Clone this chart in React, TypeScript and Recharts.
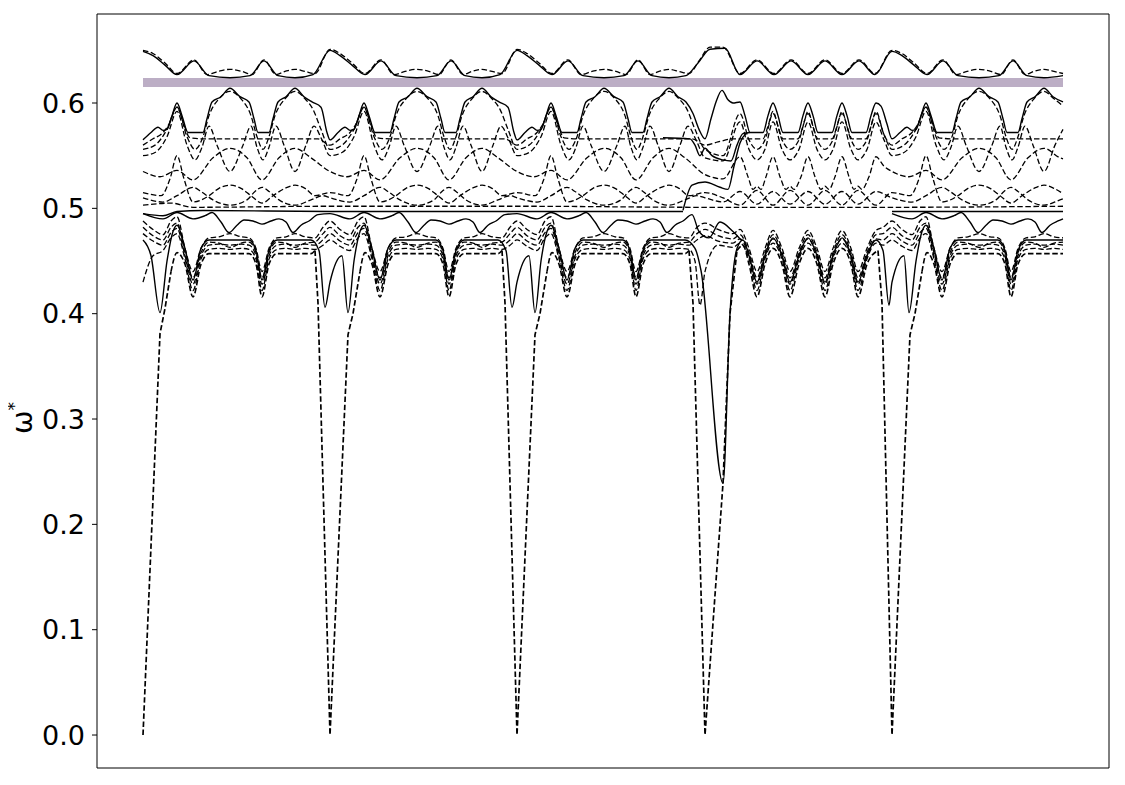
import React from 'react';
import { LineChart, Line, XAxis, YAxis } from 'recharts';

type Pt = [number, number | null];

const Y_TICKS = [0, 0.1, 0.2, 0.3, 0.4, 0.5, 0.6];
const X_DOMAIN: [number, number] = [-46, 966];
const Y_DOMAIN: [number, number] = [-0.0313, 0.6845];

const PURPLE_BAND: Pt[] = [[0, 0.6195], [920, 0.6195]];

const TOP_SOLID: Pt[] = [[0,0.649],[10,0.645],[22,0.636],[34,0.627],[51,0.640],[66,0.626],[87,0.624],[107,0.626],[121,0.640],[135,0.626],[152,0.624],[170,0.627],[187,0.650],[197,0.645],[209,0.636],[222,0.627],[238,0.640],[253,0.626],[274,0.624],[294,0.626],[308,0.640],[322,0.626],[339,0.624],[357,0.627],[374,0.650],[384,0.645],[396,0.636],[409,0.627],[425,0.640],[440,0.626],[461,0.624],[481,0.626],[495,0.640],[509,0.626],[526,0.624],[543,0.626],[555,0.638],[567,0.651],[582,0.652],[597,0.627],[614,0.640],[631,0.627],[648,0.640],[665,0.627],[682,0.640],[699,0.627],[716,0.640],[732,0.627],[749,0.649],[759,0.645],[771,0.636],[784,0.627],[800,0.640],[815,0.626],[836,0.624],[856,0.626],[870,0.640],[884,0.626],[901,0.624],[920,0.626]];

const TOP_DASH: Pt[] = [[0,0.650],[10,0.647],[22,0.638],[34,0.628],[51,0.641],[64,0.627],[75,0.630],[87,0.632],[99,0.630],[109,0.627],[121,0.641],[133,0.627],[142,0.630],[152,0.632],[162,0.630],[172,0.628],[187,0.651],[197,0.647],[209,0.638],[222,0.628],[238,0.641],[251,0.627],[262,0.630],[274,0.632],[286,0.630],[296,0.627],[308,0.641],[320,0.627],[329,0.630],[339,0.632],[349,0.630],[359,0.628],[374,0.651],[384,0.647],[396,0.638],[409,0.628],[425,0.641],[438,0.627],[449,0.630],[461,0.632],[473,0.630],[483,0.627],[495,0.641],[507,0.627],[516,0.630],[526,0.632],[536,0.630],[546,0.628],[556,0.640],[567,0.653],[580,0.653],[597,0.628],[614,0.641],[631,0.628],[648,0.641],[665,0.628],[682,0.641],[699,0.628],[716,0.641],[732,0.628],[749,0.650],[759,0.647],[771,0.638],[784,0.628],[800,0.641],[813,0.627],[824,0.630],[836,0.632],[848,0.630],[858,0.627],[870,0.641],[882,0.627],[891,0.630],[901,0.632],[911,0.630],[920,0.628]];

const BAND_SOLID: Pt[] = [[0,0.565],[8,0.572],[15,0.577],[20,0.574],[24,0.575],[29,0.588],[34,0.600],[39,0.588],[45,0.572],[60,0.572],[64,0.585],[69,0.601],[78,0.606],[87,0.614],[97,0.606],[106,0.601],[111,0.585],[115,0.572],[126,0.572],[130,0.585],[135,0.601],[143,0.606],[152,0.614],[161,0.606],[169,0.601],[178,0.596],[184,0.572],[187,0.565],
[195,0.572],[202,0.577],[207,0.574],[211,0.575],[216,0.588],[221,0.600],[226,0.588],[232,0.572],[247,0.572],[251,0.585],[256,0.601],[265,0.606],[274,0.614],[284,0.606],[293,0.601],[298,0.585],[302,0.572],[313,0.572],[317,0.585],[322,0.601],[330,0.606],[339,0.614],[348,0.606],[356,0.601],[365,0.596],[371,0.572],[374,0.565],
[382,0.572],[389,0.577],[394,0.574],[398,0.575],[403,0.588],[408,0.600],[413,0.588],[419,0.572],[434,0.572],[438,0.585],[443,0.601],[452,0.606],[461,0.614],[471,0.606],[480,0.601],[485,0.585],[489,0.572],[500,0.572],[504,0.585],[509,0.601],[517,0.606],[526,0.614],[535,0.606],[543,0.601],[550,0.590],[556,0.575],[562,0.566],
[568,0.585],[573,0.601],[579,0.612],[585,0.603],[590,0.600],[597,0.601],[602,0.588],[607,0.572],[620,0.572],[625,0.588],[630,0.600],[635,0.588],[640,0.572],[655,0.572],[660,0.588],[665,0.600],[670,0.588],[675,0.572],[689,0.572],[694,0.588],[699,0.600],[704,0.588],[709,0.572],[723,0.572],[728,0.588],[733,0.600],[738,0.597],[744,0.580],[749,0.566],
[757,0.572],[764,0.577],[769,0.574],[773,0.575],[778,0.588],[783,0.600],[788,0.588],[794,0.572],[809,0.572],[813,0.585],[818,0.601],[827,0.606],[836,0.614],[846,0.606],[855,0.601],[860,0.585],[864,0.572],[875,0.572],[879,0.585],[884,0.601],[892,0.606],[901,0.614],[910,0.606],[920,0.601]];

const FLAT_DASH: Pt[] = [[0,0.560],[10,0.566],[20,0.572],[26,0.580],[34,0.596],[40,0.582],[47,0.567],[60,0.566],[87,0.566],[120,0.566],[152,0.566],[175,0.566],[187,0.560],
[197,0.566],[207,0.572],[213,0.580],[221,0.596],[227,0.582],[234,0.567],[247,0.566],[274,0.566],[307,0.566],[339,0.566],[362,0.566],[374,0.560],
[384,0.566],[394,0.572],[400,0.580],[408,0.596],[414,0.582],[421,0.567],[434,0.566],[461,0.566],[494,0.566],[526,0.566],[549,0.566],[562,0.560],
[575,0.563],[590,0.566],[620,0.566],[625,0.578],[630,0.592],[635,0.578],[640,0.566],[655,0.566],[660,0.578],[665,0.592],[670,0.578],[675,0.566],[689,0.566],[694,0.578],[699,0.592],[704,0.578],[709,0.566],[723,0.566],[728,0.578],[733,0.592],[741,0.570],[749,0.560],
[759,0.566],[769,0.572],[775,0.580],[783,0.596],[789,0.582],[796,0.567],[809,0.566],[836,0.566],[869,0.566],[901,0.566],[920,0.566]];

const NEST_A: Pt[] = [[0,0.556],[12,0.560],[24,0.575],[34,0.596],[44,0.568],[52,0.556],[60,0.568],[66,0.588],[76,0.604],[87,0.611],[98,0.604],[108,0.588],[114,0.568],[120,0.556],[126,0.568],[132,0.588],[142,0.604],[152,0.611],[162,0.604],[170,0.594],[178,0.575],[187,0.556],
[199,0.560],[211,0.575],[221,0.596],[231,0.568],[239,0.556],[247,0.568],[253,0.588],[263,0.604],[274,0.611],[285,0.604],[295,0.588],[301,0.568],[307,0.556],[313,0.568],[319,0.588],[329,0.604],[339,0.611],[349,0.604],[357,0.594],[365,0.575],[374,0.556],
[386,0.560],[398,0.575],[408,0.596],[418,0.568],[426,0.556],[434,0.568],[440,0.588],[450,0.604],[461,0.611],[472,0.604],[482,0.588],[488,0.568],[494,0.556],[500,0.568],[506,0.588],[516,0.604],[526,0.611],[536,0.604],[544,0.594],[552,0.575],[562,0.556],
[580,0.550],[597,0.590],[606,0.565],[614,0.556],[622,0.565],[630,0.590],[639,0.565],[647,0.556],[656,0.565],[665,0.590],[674,0.565],[682,0.556],[690,0.565],[699,0.590],[708,0.565],[715,0.556],[724,0.565],[733,0.590],[741,0.570],[749,0.556],
[761,0.560],[773,0.575],[783,0.596],[793,0.568],[801,0.556],[809,0.568],[815,0.588],[825,0.604],[836,0.611],[847,0.604],[857,0.588],[863,0.568],[869,0.556],[875,0.568],[881,0.588],[891,0.604],[901,0.611],[911,0.604],[920,0.597]];

const NEST_B: Pt[] = [[0,0.550],[12,0.553],[24,0.568],[34,0.592],[44,0.560],[52,0.546],[59,0.558],[66,0.578],[74,0.560],[87,0.535],[100,0.560],[108,0.578],[114,0.558],[120,0.546],[126,0.558],[133,0.578],[141,0.560],[152,0.535],[163,0.560],[171,0.578],[179,0.565],[187,0.550],
[199,0.553],[211,0.568],[221,0.592],[231,0.560],[239,0.546],[246,0.558],[253,0.578],[261,0.560],[274,0.535],[287,0.560],[295,0.578],[301,0.558],[307,0.546],[313,0.558],[320,0.578],[328,0.560],[339,0.535],[350,0.560],[358,0.578],[366,0.565],[374,0.550],
[386,0.553],[398,0.568],[408,0.592],[418,0.560],[426,0.546],[433,0.558],[440,0.578],[448,0.560],[461,0.535],[474,0.560],[482,0.578],[488,0.558],[494,0.546],[500,0.558],[507,0.578],[515,0.560],[526,0.535],[537,0.560],[545,0.578],[553,0.565],[562,0.548],
[580,0.545],[597,0.582],[606,0.556],[614,0.546],[622,0.556],[630,0.582],[639,0.556],[647,0.546],[656,0.556],[665,0.582],[674,0.556],[682,0.546],[690,0.556],[699,0.582],[708,0.556],[715,0.546],[724,0.556],[733,0.582],[741,0.565],[749,0.550],
[761,0.553],[773,0.568],[783,0.592],[793,0.560],[801,0.546],[808,0.558],[815,0.578],[823,0.560],[836,0.535],[849,0.560],[857,0.578],[863,0.558],[869,0.546],[875,0.558],[882,0.578],[890,0.560],[901,0.535],[912,0.560],[920,0.575]];

const ARC_HILL: Pt[] = [[0,0.535],[17,0.530],[34,0.536],[50,0.527],[70,0.548],[87,0.557],[104,0.548],[119,0.527],[136,0.548],[152,0.557],[168,0.548],[187,0.535],
[204,0.530],[221,0.536],[237,0.527],[257,0.548],[274,0.557],[291,0.548],[306,0.527],[323,0.548],[339,0.557],[355,0.548],[374,0.535],
[391,0.530],[408,0.536],[424,0.527],[444,0.548],[461,0.557],[478,0.548],[493,0.527],[510,0.548],[526,0.557],[542,0.548],[562,0.532],
[580,0.528],[597,0.549],[605,0.530],[610,0.518],[614,0.521],[618,0.518],[623,0.530],[630,0.549],[637,0.530],[643,0.518],[647,0.521],[651,0.518],[658,0.530],[665,0.549],[672,0.530],[678,0.518],[682,0.521],[686,0.518],[692,0.530],[699,0.549],[706,0.530],[711,0.518],[715,0.521],[719,0.518],[726,0.530],[733,0.549],[741,0.540],[749,0.535],
[766,0.530],[783,0.536],[799,0.527],[819,0.548],[836,0.557],[853,0.548],[868,0.527],[885,0.548],[901,0.557],[917,0.548],[920,0.547]];

const SPIKE_DASH: Pt[] = [[0,0.515],[18,0.512],[27,0.528],[34,0.550],[41,0.528],[50,0.506],[66,0.512],[76,0.519],[87,0.522],[98,0.519],[108,0.512],[119,0.505],[130,0.512],[142,0.519],[152,0.522],[162,0.519],[172,0.512],[187,0.515],
[205,0.512],[214,0.528],[221,0.550],[228,0.528],[237,0.506],[253,0.512],[263,0.519],[274,0.522],[285,0.519],[295,0.512],[306,0.505],[317,0.512],[329,0.519],[339,0.522],[349,0.519],[359,0.512],[374,0.515],
[392,0.512],[401,0.528],[408,0.550],[415,0.528],[424,0.506],[440,0.512],[450,0.519],[461,0.522],[472,0.519],[482,0.512],[493,0.505],[504,0.512],[516,0.519],[526,0.522],[536,0.519],[546,0.512],[562,0.515],
[580,0.510],[597,0.503],[614,0.517],[630,0.503],[647,0.517],[665,0.503],[682,0.517],[699,0.503],[715,0.517],[733,0.503],[749,0.515],
[767,0.512],[776,0.528],[783,0.550],[790,0.528],[799,0.506],[815,0.512],[825,0.519],[836,0.522],[847,0.519],[857,0.512],[868,0.505],[879,0.512],[891,0.519],[901,0.522],[911,0.519],[920,0.514]];

const CROSS_DASH: Pt[] = [[0,0.510],[20,0.506],[34,0.512],[50,0.520],[58,0.516],[70,0.508],[87,0.503],[104,0.508],[112,0.516],[119,0.520],[126,0.516],[136,0.508],[152,0.503],[168,0.508],[180,0.512],[187,0.510],
[207,0.506],[221,0.512],[237,0.520],[245,0.516],[257,0.508],[274,0.503],[291,0.508],[299,0.516],[306,0.520],[313,0.516],[323,0.508],[339,0.503],[355,0.508],[367,0.512],[374,0.510],
[394,0.506],[408,0.512],[424,0.520],[432,0.516],[444,0.508],[461,0.503],[478,0.508],[486,0.516],[493,0.520],[500,0.516],[510,0.508],[526,0.503],[542,0.508],[554,0.512],[562,0.510],
[580,0.506],[597,0.516],[614,0.504],[630,0.516],[647,0.504],[665,0.516],[682,0.504],[699,0.516],[715,0.504],[733,0.516],[749,0.510],
[769,0.506],[783,0.512],[799,0.520],[807,0.516],[819,0.508],[836,0.503],[853,0.508],[861,0.516],[868,0.520],[875,0.516],[885,0.508],[901,0.503],[917,0.508],[920,0.509]];

const LEVEL_DASH: Pt[] = [[0,0.503],[28,0.505],[50,0.501],[187,0.502],[374,0.502],[562,0.501],[749,0.501],[920,0.502]];

const LEVEL_SOLID: Pt[] = [[0,0.495],[20,0.493],[34,0.497],[60,0.498],[187,0.497],[374,0.497],[540,0.497],[541,null],[748,null],[749,0.497],[920,0.497]];

const WAVE_SOLID: Pt[] = [[0,0.495],[20,0.490],[34,0.496],[50,0.490],[62,0.493],[69,0.496],[78,0.487],[86,0.477],[94,0.484],[101,0.489],[110,0.488],[119,0.485],[128,0.488],[136,0.490],[143,0.487],[150,0.477],[158,0.484],[166,0.488],[175,0.494],[187,0.495],
[207,0.490],[221,0.496],[237,0.490],[249,0.493],[256,0.496],[265,0.487],[273,0.477],[281,0.484],[288,0.489],[297,0.488],[306,0.485],[315,0.488],[323,0.490],[330,0.487],[337,0.477],[345,0.484],[353,0.488],[362,0.494],[374,0.495],
[394,0.490],[408,0.496],[424,0.490],[436,0.493],[443,0.496],[452,0.487],[460,0.477],[468,0.484],[475,0.489],[484,0.488],[493,0.485],[502,0.488],[510,0.490],[517,0.487],[524,0.477],[532,0.484],[540,0.488],[549,0.494],[556,0.478],[566,0.472],[577,0.487],[590,0.478],[598,0.470],[599,null],[748,null],
[749,0.495],[769,0.490],[783,0.496],[799,0.490],[811,0.493],[818,0.496],[827,0.487],[835,0.477],[843,0.484],[850,0.489],[859,0.488],[868,0.485],[877,0.488],[885,0.490],[892,0.487],[899,0.477],[907,0.484],[915,0.488],[920,0.490]];

const W_SOLID: Pt[] = [[520,0.567],[547,0.566],[552,0.560],[557,0.550],[562,0.557],[569,0.550],[580,0.546],[588,0.545],[594,0.560],[600,0.571],[607,0.572]];

const MID_SOLID: Pt[] = [[540,0.498],[549,0.522],[562,0.525],[577,0.520],[585,0.518],[591,0.540],[597,0.562],[604,0.572]];

const LOW_A: Pt[] = [[0,0.488],[10,0.480],[20,0.475],[28,0.488],[34,0.492],[42,0.462],[50,0.440],[58,0.462],[66,0.472],[76,0.473],[87,0.476],[98,0.473],[106,0.472],[113,0.462],[119,0.440],[126,0.462],[134,0.472],[143,0.473],[152,0.476],[162,0.473],[172,0.472],[180,0.482],[187,0.488],
[197,0.480],[207,0.475],[215,0.488],[221,0.492],[229,0.462],[237,0.440],[245,0.462],[253,0.472],[263,0.473],[274,0.476],[285,0.473],[293,0.472],[300,0.462],[306,0.440],[313,0.462],[321,0.472],[330,0.473],[339,0.476],[349,0.473],[359,0.472],[367,0.482],[374,0.488],
[384,0.480],[394,0.475],[402,0.488],[408,0.492],[416,0.462],[424,0.440],[432,0.462],[440,0.472],[450,0.473],[461,0.476],[472,0.473],[480,0.472],[487,0.462],[493,0.440],[500,0.462],[508,0.472],[517,0.473],[526,0.476],[536,0.473],[546,0.472],[554,0.482],[562,0.486],
[575,0.480],[590,0.476],[597,0.480],[606,0.462],[614,0.440],[622,0.462],[630,0.479],[639,0.462],[647,0.440],[656,0.462],[665,0.479],[674,0.462],[682,0.440],[690,0.462],[699,0.479],[708,0.462],[715,0.440],[724,0.462],[733,0.479],[740,0.482],[749,0.488],
[759,0.480],[769,0.475],[777,0.488],[783,0.492],[791,0.462],[799,0.440],[807,0.462],[815,0.472],[825,0.473],[836,0.476],[847,0.473],[855,0.472],[862,0.462],[868,0.440],[875,0.462],[883,0.472],[892,0.473],[901,0.476],[911,0.473],[920,0.472]];

const LOW_B: Pt[] = [[0,0.482],[10,0.474],[20,0.470],[28,0.482],[34,0.486],[42,0.458],[50,0.434],[58,0.458],[66,0.468],[76,0.467],[87,0.463],[98,0.467],[106,0.468],[113,0.458],[119,0.434],[126,0.458],[134,0.468],[143,0.467],[152,0.463],[162,0.467],[172,0.468],[180,0.476],[187,0.482],
[197,0.474],[207,0.470],[215,0.482],[221,0.486],[229,0.458],[237,0.434],[245,0.458],[253,0.468],[263,0.467],[274,0.463],[285,0.467],[293,0.468],[300,0.458],[306,0.434],[313,0.458],[321,0.468],[330,0.467],[339,0.463],[349,0.467],[359,0.468],[367,0.476],[374,0.482],
[384,0.474],[394,0.470],[402,0.482],[408,0.486],[416,0.458],[424,0.434],[432,0.458],[440,0.468],[450,0.467],[461,0.463],[472,0.467],[480,0.468],[487,0.458],[493,0.434],[500,0.458],[508,0.468],[517,0.467],[526,0.463],[536,0.467],[546,0.468],[554,0.476],[562,0.480],
[575,0.474],[590,0.471],[597,0.475],[606,0.458],[614,0.434],[622,0.458],[630,0.475],[639,0.458],[647,0.434],[656,0.458],[665,0.475],[674,0.458],[682,0.434],[690,0.458],[699,0.475],[708,0.458],[715,0.434],[724,0.458],[733,0.475],[740,0.476],[749,0.482],
[759,0.474],[769,0.470],[777,0.482],[783,0.486],[791,0.458],[799,0.434],[807,0.458],[815,0.468],[825,0.467],[836,0.463],[847,0.467],[855,0.468],[862,0.458],[868,0.434],[875,0.458],[883,0.468],[892,0.467],[901,0.463],[911,0.467],[920,0.468]];

const LOW_C: Pt[] = [[0,0.476],[10,0.469],[20,0.465],[28,0.477],[34,0.481],[42,0.455],[50,0.428],[58,0.455],[66,0.465],[76,0.466],[87,0.465],[98,0.466],[106,0.465],[113,0.455],[119,0.428],[126,0.455],[134,0.465],[143,0.466],[152,0.465],[162,0.466],[172,0.465],[180,0.470],[187,0.476],
[197,0.469],[207,0.465],[215,0.477],[221,0.481],[229,0.455],[237,0.428],[245,0.455],[253,0.465],[263,0.466],[274,0.465],[285,0.466],[293,0.465],[300,0.455],[306,0.428],[313,0.455],[321,0.465],[330,0.466],[339,0.465],[349,0.466],[359,0.465],[367,0.470],[374,0.476],
[384,0.469],[394,0.465],[402,0.477],[408,0.481],[416,0.455],[424,0.428],[432,0.455],[440,0.465],[450,0.466],[461,0.465],[472,0.466],[480,0.465],[487,0.455],[493,0.428],[500,0.455],[508,0.465],[517,0.466],[526,0.465],[536,0.466],[546,0.465],[554,0.470],[562,0.474],
[575,0.469],[590,0.467],[597,0.471],[606,0.455],[614,0.428],[622,0.455],[630,0.471],[639,0.455],[647,0.428],[656,0.455],[665,0.471],[674,0.455],[682,0.428],[690,0.455],[699,0.471],[708,0.455],[715,0.428],[724,0.455],[733,0.471],[740,0.470],[749,0.476],
[759,0.469],[769,0.465],[777,0.477],[783,0.481],[791,0.455],[799,0.428],[807,0.455],[815,0.465],[825,0.466],[836,0.465],[847,0.466],[855,0.465],[862,0.455],[868,0.428],[875,0.455],[883,0.465],[892,0.466],[901,0.465],[911,0.466],[920,0.465]];

const LOW_D: Pt[] = [[0,0.430],[10,0.455],[20,0.460],[28,0.472],[34,0.476],[42,0.452],[50,0.422],[58,0.452],[66,0.461],[76,0.462],[87,0.461],[98,0.462],[106,0.461],[113,0.452],[119,0.422],[126,0.452],[134,0.461],[143,0.462],[152,0.461],[162,0.462],[172,0.461],[180,0.465],[187,0.470],
[197,0.464],[207,0.460],[215,0.472],[221,0.476],[229,0.452],[237,0.422],[245,0.452],[253,0.461],[263,0.462],[274,0.461],[285,0.462],[293,0.461],[300,0.452],[306,0.422],[313,0.452],[321,0.461],[330,0.462],[339,0.461],[349,0.462],[359,0.461],[367,0.465],[374,0.470],
[384,0.464],[394,0.460],[402,0.472],[408,0.476],[416,0.452],[424,0.422],[432,0.452],[440,0.461],[450,0.462],[461,0.461],[472,0.462],[480,0.461],[487,0.452],[493,0.422],[500,0.452],[508,0.461],[517,0.462],[526,0.461],[536,0.462],[546,0.461],[552,0.450],[557,0.408],[562,0.440],
[575,0.465],[590,0.463],[597,0.467],[606,0.452],[614,0.422],[622,0.452],[630,0.467],[639,0.452],[647,0.422],[656,0.452],[665,0.467],[674,0.452],[682,0.422],[690,0.452],[699,0.467],[708,0.452],[715,0.422],[724,0.452],[733,0.467],[740,0.465],[749,0.470],
[759,0.464],[769,0.460],[777,0.472],[783,0.476],[791,0.452],[799,0.422],[807,0.452],[815,0.461],[825,0.462],[836,0.461],[847,0.462],[855,0.461],[862,0.452],[868,0.422],[875,0.452],[883,0.461],[892,0.462],[901,0.461],[911,0.462],[920,0.461]];

const ACOUSTIC: Pt[] = [[28,0.44],[34,0.458],[42,0.447],[50,0.416],[58,0.447],[66,0.457],[87,0.457],[106,0.457],[113,0.447],[119,0.416],[126,0.447],[134,0.457],[152,0.457],[168,0.457],[172,0.46],[180,null],
[217,0.44],[222,0.458],[229,0.447],[237,0.416],[245,0.447],[253,0.457],[274,0.457],[293,0.457],[300,0.447],[306,0.416],[313,0.447],[321,0.457],[339,0.457],[355,0.457],[359,0.46],[370,null],
[404,0.44],[409,0.458],[416,0.447],[424,0.416],[432,0.447],[440,0.457],[461,0.457],[480,0.457],[487,0.447],[493,0.416],[500,0.447],[508,0.457],[526,0.457],[542,0.457],[546,0.46],[560,null],
[594,0.46],[600,0.465],[606,0.447],[614,0.416],[622,0.447],[630,0.462],[639,0.447],[647,0.416],[656,0.447],[665,0.462],[674,0.447],[682,0.416],[690,0.447],[699,0.462],[708,0.447],[715,0.416],[724,0.447],[735,0.46],[745,null],
[779,0.44],[784,0.458],[791,0.447],[799,0.416],[807,0.447],[815,0.457],[836,0.457],[855,0.457],[862,0.447],[868,0.416],[875,0.447],[883,0.457],[901,0.457],[920,0.457]];

const ACOUSTIC_DROPS: Pt[] = [[0,0],[17,0.381],[22,0.405],[28,0.44],[100,null],
[172,0.46],[175,0.41],[187,0],[205,0.38],[210,0.40],[217,0.44],[300,null],
[359,0.46],[362,0.41],[374,0],[392,0.38],[397,0.40],[404,0.44],[480,null],
[546,0.46],[550,0.41],[562,0],[580,0.239],[587,0.40],[594,0.46],[660,null],
[735,0.46],[739,0.41],[749,0],[767,0.38],[772,0.40],[779,0.44]];

const LOW_SOLID: Pt[] = [[0,0.470],[8,0.455],[17,0.401],[24,0.450],[30,0.478],[34,0.484],[42,0.462],[50,0.432],[58,0.462],[66,0.470],[87,0.470],[106,0.470],[113,0.460],[119,0.432],[126,0.460],[134,0.470],[152,0.470],[168,0.470],[176,0.460],[182,0.406],[187,0.430],
[199,0.455],[205,0.401],[211,0.450],[217,0.478],[221,0.484],[229,0.462],[237,0.432],[245,0.462],[253,0.470],[274,0.470],[293,0.470],[300,0.460],[306,0.432],[313,0.460],[321,0.470],[339,0.470],[355,0.470],[363,0.460],[369,0.406],[374,0.430],
[386,0.455],[392,0.401],[398,0.450],[404,0.478],[408,0.484],[416,0.462],[424,0.432],[432,0.462],[440,0.470],[461,0.470],[480,0.470],[487,0.460],[493,0.432],[500,0.460],[508,0.470],[526,0.470],[542,0.470],[552,0.462],[558,0.441],[580,0.239],[587,0.40],[594,0.462],[600,0.470],[606,0.455],[614,0.430],[622,0.455],[630,0.472],[639,0.455],[647,0.430],[656,0.455],[665,0.472],[674,0.455],[682,0.430],[690,0.455],[699,0.472],[708,0.455],[715,0.430],[724,0.455],[733,0.470],[740,0.460],[746,0.408],[749,0.430],
[761,0.455],[766,0.401],[773,0.450],[779,0.478],[783,0.484],[791,0.462],[799,0.432],[807,0.462],[815,0.470],[836,0.470],[855,0.470],[862,0.460],[868,0.432],[875,0.460],[883,0.470],[901,0.470],[920,0.470]];

type Series = { key: string; pts: Pt[]; dashed: boolean; width?: number; curve?: 'monotone' | 'linear' };

const SERIES: Series[] = [
  { key: 'top-solid', pts: TOP_SOLID, dashed: false },
  { key: 'top-dash', pts: TOP_DASH, dashed: true },
  { key: 'band-solid', pts: BAND_SOLID, dashed: false },
  { key: 'flat-dash', pts: FLAT_DASH, dashed: true },
  { key: 'nest-a', pts: NEST_A, dashed: true },
  { key: 'nest-b', pts: NEST_B, dashed: true },
  { key: 'arc-hill', pts: ARC_HILL, dashed: true },
  { key: 'spike', pts: SPIKE_DASH, dashed: true },
  { key: 'cross', pts: CROSS_DASH, dashed: true },
  { key: 'level-dash', pts: LEVEL_DASH, dashed: true },
  { key: 'level-solid', pts: LEVEL_SOLID, dashed: false },
  { key: 'wave-solid', pts: WAVE_SOLID, dashed: false },
  { key: 'w-solid', pts: W_SOLID, dashed: false },
  { key: 'mid-solid', pts: MID_SOLID, dashed: false },
  { key: 'low-a', pts: LOW_A, dashed: true },
  { key: 'low-b', pts: LOW_B, dashed: true },
  { key: 'low-c', pts: LOW_C, dashed: true },
  { key: 'low-d', pts: LOW_D, dashed: true },
  { key: 'acoustic', pts: ACOUSTIC, dashed: true, width: 1.6 },
  { key: 'acoustic-drops', pts: ACOUSTIC_DROPS, dashed: true, width: 1.7, curve: 'linear' },
  { key: 'low-solid', pts: LOW_SOLID, dashed: false },
];

const toRows = (pts: Pt[]) => pts.map(([x, v]) => ({ x, v }));

const FONT = 'DejaVu Sans, Liberation Sans, sans-serif';

const YLabel = () => (
  <text
    x={24}
    y={410}
    transform="rotate(-90 24 410)"
    textAnchor="middle"
    fontFamily={FONT}
    fontSize={28}
    fill="#000"
  >
    ω<tspan dy={-12} fontSize={17}>*</tspan>
  </text>
);

export default function App() {
  return (
    <LineChart width={1110} height={770} margin={{ top: 0, right: 0, bottom: 0, left: 9 }}>
      <XAxis
        xAxisId="b"
        type="number"
        dataKey="x"
        domain={X_DOMAIN}
        allowDataOverflow
        tick={false}
        tickLine={false}
        height={10}
        stroke="#000"
      />
      <XAxis
        xAxisId="t"
        orientation="top"
        type="number"
        dataKey="x"
        domain={X_DOMAIN}
        allowDataOverflow
        tick={false}
        tickLine={false}
        height={6}
        stroke="#000"
      />
      <YAxis
        yAxisId="l"
        type="number"
        domain={Y_DOMAIN}
        allowDataOverflow
        ticks={Y_TICKS}
        interval={0}
        tickFormatter={(v: number) => v.toFixed(1)}
        width={80}
        tickSize={5}
        tickMargin={7}
        tick={{ fontSize: 27, fill: '#000', fontFamily: FONT }}
        stroke="#000"
        label={<YLabel />}
      />
      <YAxis
        yAxisId="r"
        orientation="right"
        type="number"
        domain={Y_DOMAIN}
        allowDataOverflow
        tick={false}
        tickLine={false}
        width={9}
        stroke="#000"
      />
      <Line
        xAxisId="b"
        yAxisId="l"
        data={toRows(PURPLE_BAND)}
        dataKey="v"
        type="linear"
        stroke="#bcaec5"
        strokeWidth={9}
        dot={false}
        activeDot={false}
        isAnimationActive={false}
      />
      {SERIES.map((s) => (
        <Line
          key={s.key}
          xAxisId="b"
          yAxisId="l"
          data={toRows(s.pts)}
          dataKey="v"
          type={s.curve ?? 'monotone'}
          stroke="#000"
          strokeWidth={s.width ?? (s.dashed ? 1.3 : 1.4)}
          strokeDasharray={s.dashed ? '5.5 2.6' : undefined}
          dot={false}
          activeDot={false}
          isAnimationActive={false}
        />
      ))}
    </LineChart>
  );
}
